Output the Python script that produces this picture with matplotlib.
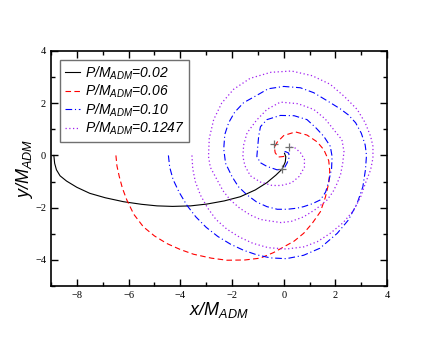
import numpy as np
import matplotlib
matplotlib.use('Agg')
import matplotlib.pyplot as plt
from matplotlib.ticker import MultipleLocator

plt.rcParams['mathtext.fontset'] = 'custom'
plt.rcParams['mathtext.it'] = 'Liberation Sans:italic'
plt.rcParams['mathtext.rm'] = 'Liberation Sans:italic'

# puncture tracks, (x, y) in units of M_ADM
black_x = [-8.89, -8.86, -8.79, -8.65, -8.40, -8.00, -7.50, -6.90, -6.20, -5.50, -4.90,
           -4.30, -3.60, -2.97, -2.30, -1.68, -1.10, -0.65, -0.30, -0.06, 0.06, 0.08, 0.03]
black_y = [0.00, -0.30, -0.55, -0.78, -0.98, -1.22, -1.45, -1.62, -1.77, -1.87, -1.93,
           -1.95, -1.93, -1.86, -1.74, -1.58, -1.32, -1.04, -0.75, -0.52, -0.25, -0.05, 0.08]

red_x = [-6.49, -6.45, -6.36, -6.24, -6.07, -5.80, -5.43, -5.00, -4.52, -4.00, -3.49,
         -2.80, -2.20, -1.50, -0.91, -0.40, 0.00, 0.40, 0.77, 1.10, 1.42, 1.61, 1.74,
         1.78, 1.74, 1.55, 1.29, 0.90, 0.45, 0.00, -0.26, -0.36, -0.33, -0.20, 0.00, 0.06]
red_y = [0.00, -0.40, -0.81, -1.25, -1.70, -2.25, -2.73, -3.08, -3.37, -3.60, -3.78,
         -3.93, -4.01, -4.00, -3.93, -3.72, -3.50, -3.28, -2.98, -2.60, -2.15, -1.60, -1.06,
         -0.60, -0.20, 0.22, 0.52, 0.78, 0.90, 0.76, 0.50, 0.30, 0.10, -0.06, -0.04, 0.09]

blue_x = [-4.46, -4.41, -4.28, -4.05, -3.75, -3.40, -3.00, -2.55, -2.05, -1.55, -1.05, -0.52,
          0.10, 0.77, 1.40, 2.07, 2.50, 2.84, 3.06, 3.16, 3.20, 3.15, 3.00, 2.78, 2.50, 2.19,
          1.70, 1.16, 0.64, 0.00, -0.60, -1.04, -1.55, -1.90, -2.13, -2.28, -2.32, -2.25,
          -2.00, -1.75, -1.42, -1.05, -0.65, -0.25, 0.13, 0.50, 0.77, 1.10, 1.42, 1.62,
          1.74, 1.85, 1.87, 1.80, 1.55, 1.25, 0.90, 0.40, -0.13, -0.65, -0.90, -0.97,
          -1.04, -0.90, -0.65, -0.26, 0.00, 0.13, 0.22, 0.19, 0.06, 0.00]
blue_y = [0.00, -0.45, -0.92, -1.40, -1.90, -2.35, -2.75, -3.10, -3.40, -3.63, -3.80, -3.92,
          -3.95, -3.82, -3.55, -2.98, -2.47, -1.83, -1.20, -0.55, 0.00, 0.40, 0.85, 1.25, 1.55, 1.78,
          2.08, 2.40, 2.59, 2.64, 2.55, 2.30, 2.02, 1.65, 1.25, 0.80, 0.25, -0.30,
          -0.81, -1.20, -1.51, -1.78, -1.96, -2.06, -2.06, -2.02, -1.96, -1.85, -1.70, -1.40,
          -1.00, -0.50, -0.04, 0.35, 0.73, 1.05, 1.37, 1.52, 1.53, 1.37, 1.10, 0.73,
          -0.04, -0.28, -0.42, -0.55, -0.52, -0.29, -0.05, 0.09, 0.15, 0.09]

violet_x = [-3.55, -3.52, -3.42, -3.22, -2.95, -2.62, -2.20, -1.72, -1.20, -0.60, 0.10,
            0.77, 1.30, 1.80, 2.30, 2.71, 2.97, 3.16, 3.36, 3.45, 3.45, 3.36, 3.15, 2.84,
            2.35, 1.80, 1.10, 0.30, -0.50, -1.30, -1.94, -2.40, -2.71, -2.88, -2.91, -2.84,
            -2.58, -2.35, -2.07, -1.70, -1.29, -0.90, -0.52, -0.10, 0.30, 0.77, 1.25, 1.68,
            1.90, 2.07, 2.20, 2.28, 2.33, 2.25, 1.93, 1.60, 1.16, 0.55, -0.13, -0.65, -1.05,
            -1.42, -1.55, -1.58, -1.50, -1.29, -0.90, -0.45, -0.10, 0.30, 0.60, 0.80, 0.80,
            0.65, 0.45, 0.20]
violet_y = [0.00, -0.50, -1.00, -1.52, -2.00, -2.45, -2.82, -3.12, -3.36, -3.53, -3.58,
            -3.50, -3.30, -2.98, -2.57, -2.09, -1.60, -1.06, -0.55, -0.10, 0.35, 0.73, 1.25, 1.76,
            2.25, 2.72, 3.05, 3.23, 3.18, 2.95, 2.53, 2.00, 1.37, 0.65, -0.04, -0.45,
            -0.93, -1.35, -1.70, -2.02, -2.28, -2.45, -2.51, -2.57, -2.52, -2.35, -2.05, -1.70,
            -1.40, -1.06, -0.72, -0.30, 0.15, 0.60, 0.99, 1.40, 1.76, 1.98, 2.04, 1.76, 1.35,
            0.86, 0.40, -0.04, -0.40, -0.78, -1.02, -1.15, -1.15, -1.05, -0.80, -0.45, -0.15,
            0.10, 0.28, 0.33]

cross_x = [-0.36, 0.19, -0.06]
cross_y = [0.44, 0.32, -0.52]

labels = [r'$P/M_{ADM}$=0.02', r'$P/M_{ADM}$=0.06', r'$P/M_{ADM}$=0.10', r'$P/M_{ADM}$=0.1247']


fig = plt.figure(figsize=(4.36, 3.37), dpi=100)
ax = fig.add_axes([0.117, 0.151, 0.771, 0.698])

ax.plot(black_x, black_y, color='black', lw=0.8, label=labels[0])
ax.plot(red_x, red_y, color='#ff0000', lw=0.8, linestyle=(0, (5, 3)), label=labels[1])
ax.plot(blue_x, blue_y, color='#0000ff', lw=0.8, linestyle=(0, (6, 2.5, 1, 2.5)), label=labels[2])
ax.plot(violet_x, violet_y, color='#a020f0', lw=0.9, linestyle=(0, (1, 2)), label=labels[3])
ax.plot(cross_x, cross_y, '+', color='#707070', ms=6, mew=0.9)

ax.set_xlim(-9, 4)
ax.set_ylim(-5, 4)
ax.xaxis.set_major_locator(MultipleLocator(2))
ax.xaxis.set_minor_locator(MultipleLocator(1))
ax.yaxis.set_major_locator(MultipleLocator(2))
ax.yaxis.set_minor_locator(MultipleLocator(1))
ax.tick_params(which='both', direction='in', top=True, right=True, width=1.0)
ax.tick_params(which='major', length=5)
ax.tick_params(which='minor', length=3)
for lab in ax.get_xticklabels() + ax.get_yticklabels():
    lab.set_family('Liberation Serif')
    lab.set_fontsize(7.5)
for s in ax.spines.values():
    s.set_linewidth(1.2)

ax.set_xlabel(r'$x/M_{ADM}$', fontsize=13, labelpad=0)
ax.set_ylabel(r'$y/M_{ADM}$', fontsize=13, labelpad=0)

leg = ax.legend(loc='upper left', bbox_to_anchor=(0.027, 0.962), borderaxespad=0,
                frameon=True, fancybox=False,
                handlelength=1.1, handletextpad=0.4, labelspacing=0.08, borderpad=0.32,
                prop={'family': 'Liberation Sans', 'style': 'italic', 'size': 10})
leg.get_frame().set_edgecolor('#707070')
leg.get_frame().set_linewidth(1.0)
leg.get_frame().set_alpha(1)

fig.savefig('out.png', dpi=100)
